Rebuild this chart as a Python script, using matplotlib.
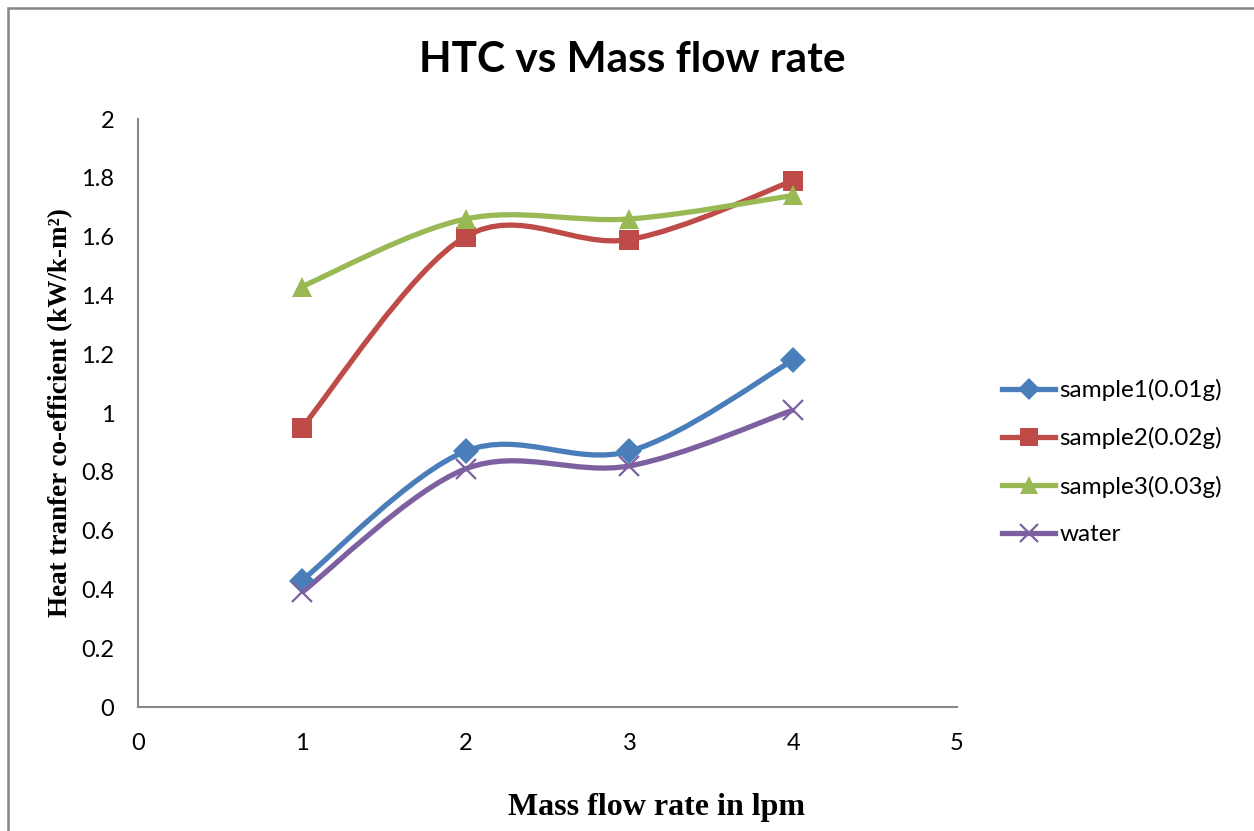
import numpy as np
import matplotlib
matplotlib.use("Agg")
import matplotlib.pyplot as plt
from matplotlib.path import Path
from matplotlib.patches import PathPatch, Rectangle
from matplotlib.lines import Line2D

# data
flow_rate = [1, 2, 3, 4]
sample1 = [0.43, 0.87, 0.87, 1.18]
sample2 = [0.95, 1.60, 1.59, 1.79]
sample3 = [1.43, 1.66, 1.66, 1.74]
water = [0.39, 0.81, 0.82, 1.01]

series_names = ["sample1(0.01g)", "sample2(0.02g)", "sample3(0.03g)", "water"]
series_values = [sample1, sample2, sample3, water]
colors = ["#4A7EBB", "#BE4B48", "#98B954", "#7D60A0"]
markers = ["D", "s", "^", "x"]
marker_sizes = [13, 15, 15, 15]

x_ticks = [0, 1, 2, 3, 4, 5]
y_ticks = [0, 0.2, 0.4, 0.6, 0.8, 1, 1.2, 1.4, 1.6, 1.8, 2]

ui_font = ["Lato", "DejaVu Sans"]
serif_font = ["Liberation Serif", "DejaVu Serif"]


def smooth_path(x, y):
    # excel style smoothed line: cubic bezier through the points
    x = np.asarray(x, float)
    y = np.asarray(y, float)
    px = np.concatenate([[x[0]], x, [x[-1]]])
    py = np.concatenate([[y[0]], y, [y[-1]]])
    verts = [(x[0], y[0])]
    codes = [Path.MOVETO]
    for i in range(1, len(px) - 2):
        c1 = (px[i] + (px[i + 1] - px[i - 1]) / 6, py[i] + (py[i + 1] - py[i - 1]) / 6)
        c2 = (px[i + 1] - (px[i + 2] - px[i]) / 6, py[i + 1] - (py[i + 2] - py[i]) / 6)
        verts += [c1, c2, (px[i + 1], py[i + 1])]
        codes += [Path.CURVE4] * 3
    return Path(verts, codes)


fig = plt.figure(figsize=(12.54, 8.31), dpi=100)
ax = fig.add_axes([138 / 1254, 1 - 707 / 831, (957 - 138) / 1254, (707 - 119) / 831])

# outer chart frame (partly cropped in the reference)
fig.patches.append(Rectangle((7.5 / 1254, -0.05), 1.2, 1 - 7.5 / 831 + 0.05,
                             transform=fig.transFigure, fill=False,
                             edgecolor="#878787", linewidth=1.8))

handles = []
for name, vals, c, m, ms in zip(series_names, series_values, colors, markers, marker_sizes):
    ax.add_patch(PathPatch(smooth_path(flow_rate, vals), facecolor="none",
                           edgecolor=c, linewidth=3.8, zorder=2))
    mew = 1.6 if m == "x" else 0
    ax.plot(flow_rate, vals, linestyle="none", marker=m, markersize=ms,
            color=c, markeredgecolor=c, markeredgewidth=mew, zorder=3)
    handles.append(Line2D([], [], color=c, linewidth=3.8, marker=m,
                          markersize=ms * 0.85, markeredgewidth=mew, label=name))

ax.set_xlim(0, 5)
ax.set_ylim(0, 2)
ax.set_xticks(x_ticks)
ax.set_yticks(y_ticks)
ax.set_xticklabels([str(v) for v in x_ticks])
ax.set_yticklabels(["0", "0.2", "0.4", "0.6", "0.8", "1", "1.2", "1.4", "1.6", "1.8", "2"])
for lbl in ax.get_xticklabels() + ax.get_yticklabels():
    lbl.set_family(ui_font)
    lbl.set_fontsize(17)
ax.tick_params(length=0)
ax.tick_params(axis="x", pad=19)
ax.tick_params(axis="y", pad=17)

for side in ["top", "right"]:
    ax.spines[side].set_visible(False)
for side in ["left", "bottom"]:
    ax.spines[side].set_color("#878787")
    ax.spines[side].set_linewidth(1.5)

fig.text(632 / 1254, 1 - 60 / 831, "HTC vs Mass flow rate", ha="center", va="center",
         family=ui_font, fontsize=30.5, fontweight="bold")
fig.text(657 / 1254, 1 - 808 / 831, "Mass flow rate in lpm", ha="center", va="center",
         family=serif_font, fontsize=23, fontweight="bold")
fig.text(61 / 1254, 1 - 413 / 831, "Heat tranfer co-efficient (kW/k-m²)", ha="center",
         va="center", rotation=90, family=serif_font, fontsize=19.5, fontweight="bold")

fig.legend(handles=handles, loc="center left", bbox_to_anchor=(1002 / 1254, 1 - 462 / 831),
           frameon=False, prop={"family": ui_font, "size": 17.5}, handlelength=2.2,
           handletextpad=0.15, labelspacing=1.08, borderaxespad=0, borderpad=0)

fig.savefig("out.png", dpi=100)
